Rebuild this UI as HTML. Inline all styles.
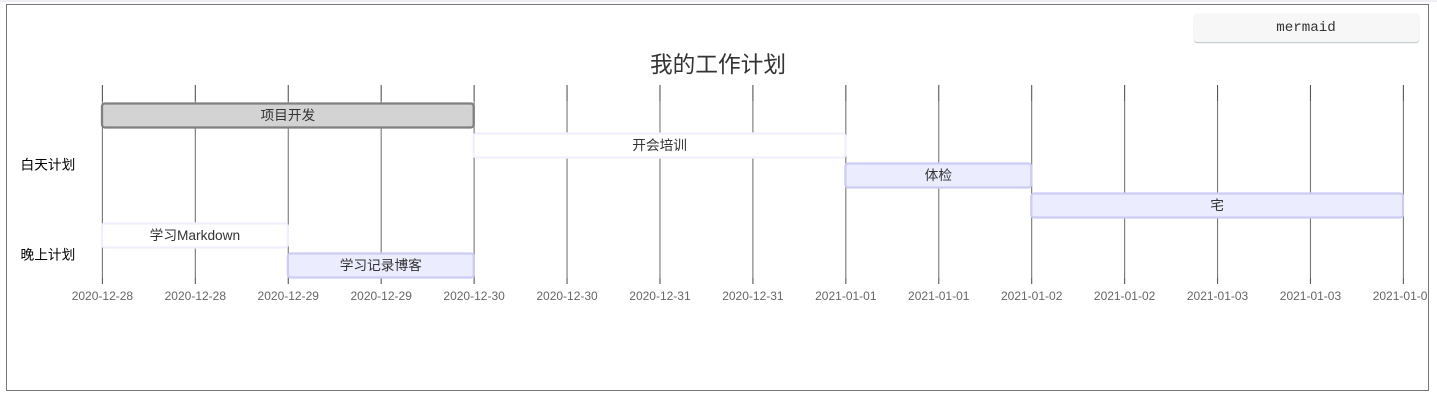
<!DOCTYPE html>
<html lang="zh">
<head>
<meta charset="utf-8">
<title>我的工作计划</title>
<style>
html,body{margin:0;padding:0;background:#fff;width:1437px;height:402px;overflow:hidden}
#top-strip{position:absolute;left:0;top:0;width:1437px;height:2px;background:#eef0f4}
#frame{position:absolute;left:6px;top:4px;width:1421px;height:385px;border:1px solid #777;box-sizing:content-box}
#lang-label{position:absolute;left:1194px;top:13px;width:225px;height:28.5px;background:#f7f7f7;border-radius:3px;box-shadow:0 1px 1px #b9c4c9;
 font:14.2px/30px "Liberation Mono",monospace;color:#333;text-align:center;text-indent:-1px}
svg{position:absolute;left:0;top:0}
text{font-family:"Liberation Sans","Noto Sans CJK SC",sans-serif}
</style>
</head>
<body>
<div id="top-strip"></div>
<div id="frame"></div>
<div id="lang-label">mermaid</div>
<svg id="chart" width="1437" height="402" viewBox="0 0 1437 402" xmlns="http://www.w3.org/2000/svg">
  <defs><clipPath id="frame-clip"><rect x="7" y="5" width="1420" height="384"/></clipPath></defs>
  <g id="grid"></g>
  <g id="bars"></g>
  <g id="labels"></g>
  <text x="718" y="72.5" text-anchor="middle" font-size="22.7" fill="#333">我的工作计划</text>
</svg>
<script>
/* Time values are in days since 2020-12-28 00:00 */
const taskNames = ['项目开发','开会培训','体检','宅','学习Markdown','学习记录博客'];
const taskStarts = [0,2,4,5,0,1];
const taskDurations = [2,2,1,2,1,1];
const taskKinds = ['done','active','normal','normal','active','normal'];
const sectionNames = ['白天计划','晚上计划'];
const sectionRows = [1.5,4.5];
const tickDays = [0,0.5,1,1.5,2,2.5,3,3.5,4,4.5,5,5.5,6,6.5,7];
const tickLabels = ['2020-12-28','2020-12-28','2020-12-29','2020-12-29','2020-12-30','2020-12-30','2020-12-31','2020-12-31','2021-01-01','2021-01-01','2021-01-02','2021-01-02','2021-01-03','2021-01-03','2021-01-04'];

const NS = 'http://www.w3.org/2000/svg';
const xScale = d => 102 + d * (1403 - 102) / 7;
const rowY = r => 103.5 + r * 30;
const styles = {
  done:{fill:'#d3d3d3',stroke:'#808080'},
  active:{fill:'#ffffff',stroke:'#f0f0ff'},
  normal:{fill:'#ececff',stroke:'#ccccf5'}
};
function mk(tag, attrs, parent){
  const el = document.createElementNS(NS, tag);
  for (const k in attrs) el.setAttribute(k, attrs[k]);
  parent.appendChild(el);
  return el;
}
const grid = document.getElementById('grid');
tickDays.forEach((d, i) => {
  const x = xScale(d) + 0.4;
  const upper = mk('line', {x1:x,x2:x,y1:85,y2:101,stroke:'#555',  'stroke-width':1.1}, grid);
  
  
  const line = mk('line', {x1:x,x2:x,y1:101,y2:278,stroke:'#777','stroke-width':1.1}, grid);
  
  
  const lower = mk('line', {x1:x,x2:x,y1:278,y2:284,stroke:'#555','stroke-width':1.1}, grid);
  
  
  const t = mk('text', {x:x,y:300,'text-anchor':'middle','font-size':12,fill:'#666','clip-path':'url(#frame-clip)'}, grid);
  
  
  t.textContent = tickLabels[i];
});
const bars = document.getElementById('bars');
taskNames.forEach((name, i) => {
  const x0 = xScale(taskStarts[i]);
  const x1 = xScale(taskStarts[i] + taskDurations[i]);
  const y = rowY(i);
  const s = styles[taskKinds[i]];
  const r = mk('rect', {x:x0,y:y,width:x1-x0,height:24,rx:3,ry:3,fill:s.fill,stroke:s.stroke,'stroke-width':2.3}, bars);
  
  
  const t = mk('text', {x:(x0+x1)/2,y:y+16.5,'text-anchor':'middle','font-size':13.7,fill:'#333'}, bars);
  
  
  t.textContent = name;
});
const labels = document.getElementById('labels');
sectionNames.forEach((name, i) => {
  const t = mk('text', {x:20.5,y:rowY(sectionRows[i])+21,'font-size':13.7,fill:'#000'}, labels);
  
  
  t.textContent = name;
});
</script>
</body>
</html>
